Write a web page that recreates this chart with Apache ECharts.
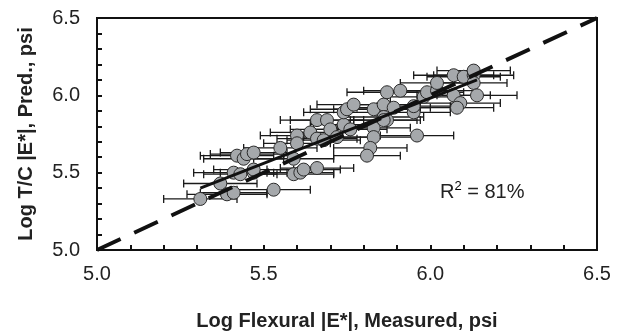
<!DOCTYPE html>
<html>
<head>
<meta charset="utf-8">
<script src="https://cdn.jsdelivr.net/npm/echarts@6/dist/echarts.min.js"></script>
<style>html,body{margin:0;padding:0;background:#fff}#c{width:626px;height:336px}</style>
</head>
<body>
<div id="c"></div>
<script>
// Measured (flexural) log |E*|
const measured = [5.31,5.37,5.39,5.41,5.53,5.41,5.43,5.47,5.47,5.42,5.44,5.45,5.47,5.55,5.59,5.61,5.66,5.59,5.60,5.60,5.64,5.66,5.66,5.69,5.74,5.76,5.70,5.68,5.72,5.74,5.75,5.77,5.83,5.86,5.89,5.95,5.86,5.87,5.83,5.83,5.82,5.81,5.96,5.87,5.91,5.98,5.99,6.02,6.02,6.07,6.10,6.13,6.13,6.13,6.07,6.09,6.08,6.14,5.95,5.62,5.86];
// Predicted (T/C) log |E*|
const predicted = [5.33,5.43,5.36,5.37,5.39,5.50,5.49,5.50,5.52,5.61,5.59,5.62,5.63,5.66,5.49,5.50,5.53,5.59,5.74,5.69,5.76,5.84,5.72,5.84,5.81,5.78,5.78,5.71,5.73,5.89,5.91,5.94,5.91,5.94,5.92,5.89,5.86,5.84,5.79,5.73,5.66,5.61,5.74,6.02,6.03,5.99,6.02,6.03,6.08,6.13,6.12,6.13,6.16,6.08,6.00,5.95,5.92,6.00,5.93,5.52,5.84];
// Horizontal error (+/-) on measured
const measuredErr = [0.11,0.11,0.12,0.10,0.11,0.12,0.11,0.10,0.12,0.11,0.12,0.11,0.10,0.11,0.12,0.10,0.11,0.12,0.11,0.10,0.12,0.11,0.12,0.11,0.10,0.11,0.12,0.11,0.10,0.12,0.11,0.11,0.12,0.10,0.11,0.11,0.12,0.10,0.11,0.12,0.11,0.10,0.11,0.12,0.11,0.10,0.11,0.12,0.11,0.12,0.11,0.12,0.11,0.10,0.11,0.12,0.11,0.12,0.11,0.11,0.10];
// Line of equality and fitted line
const equalityX = [5.0, 6.5];
const equalityY = [5.0, 6.5];
const fitX = [5.31, 6.14];
const fitY = [5.40, 6.10];
const xTicks = [5.0, 5.5, 6.0, 6.5];
const yTicks = [5.0, 5.5, 6.0, 6.5];
const r2Text = '81%';

const pts = measured.map((x, i) => [x, predicted[i]]);
const errData = measured.map((x, i) => [x - measuredErr[i], x + measuredErr[i], predicted[i]]);
const font = 'Liberation Sans, Arial, sans-serif';
const isMajor = (v, ticks) => ticks.some(t => Math.abs(t - v) < 1e-6);

const chart = echarts.init(document.getElementById('c'));
chart.setOption({
  animation: false,
  grid: {left: 97, right: 29, top: 18, bottom: 80, show: true, borderColor: '#111', borderWidth: 2, backgroundColor: 'transparent'},
  xAxis: {
    type: 'value', min: 5.0, max: 6.5, interval: 0.1,
    name: 'Log Flexural |E*|, Measured, psi', nameLocation: 'middle', nameGap: 61,
    nameTextStyle: {fontFamily: font, fontSize: 20, fontWeight: 'bold', color: '#222'},
    axisLine: {lineStyle: {color: '#111', width: 2}},
    axisTick: {inside: true, length: 5, lineStyle: {color: '#111', width: 2}},
    axisLabel: {margin: 14, fontFamily: font, fontSize: 20, color: '#222',
      formatter: v => isMajor(v, xTicks) ? v.toFixed(1) : ''},
    splitLine: {show: false}
  },
  yAxis: {
    type: 'value', min: 5.0, max: 6.5, interval: 0.1,
    name: 'Log T/C |E*|, Pred., psi', nameLocation: 'middle', nameGap: 61,
    nameTextStyle: {fontFamily: font, fontSize: 20, fontWeight: 'bold', color: '#222'},
    axisLine: {lineStyle: {color: '#111', width: 2}},
    axisTick: {inside: true, length: 5, lineStyle: {color: '#111', width: 2}},
    axisLabel: {margin: 17, fontFamily: font, fontSize: 20, color: '#222',
      formatter: v => isMajor(v, yTicks) ? v.toFixed(1) : ''},
    splitLine: {show: false}
  },
  graphic: [{
    type: 'text', left: 440, top: 180, z: 100,
    style: {
      text: '{r|R}{s|2}{r| = ' + r2Text + '}',
      rich: {
        r: {fontFamily: font, fontSize: 20, fill: '#222', color: '#222'},
        s: {fontFamily: font, fontSize: 13, color: '#222', padding: [0, 0, 11, 0]}
      }
    }
  }],
  series: [
    {
      type: 'custom', z: 2,
      data: errData,
      renderItem: (params, api) => {
        const y = api.value(2);
        const a = api.coord([api.value(0), y]);
        const b = api.coord([api.value(1), y]);
        const h = 4;
        const st = {stroke: '#1a1a1a', lineWidth: 1.3};
        return {type: 'group', children: [
          {type: 'line', shape: {x1: a[0], y1: a[1], x2: b[0], y2: b[1]}, style: st},
          {type: 'line', shape: {x1: a[0], y1: a[1] - h, x2: a[0], y2: a[1] + h}, style: st},
          {type: 'line', shape: {x1: b[0], y1: b[1] - h, x2: b[0], y2: b[1] + h}, style: st}
        ]};
      }
    },
    {
      type: 'scatter', z: 3, symbol: 'circle', symbolSize: 13,
      data: pts,
      itemStyle: {color: '#a5a8ab', borderColor: '#2a2a2a', borderWidth: 1, opacity: 1}
    },
    {
      type: 'line', z: 4, symbol: 'none',
      data: equalityX.map((x, i) => [x, equalityY[i]]),
      lineStyle: {color: '#111', width: 4, type: [26, 15]}
    },
    {
      type: 'line', z: 4, symbol: 'none',
      data: fitX.map((x, i) => [x, fitY[i]]),
      lineStyle: {color: '#111', width: 3}
    }
  ]
});
</script>
</body>
</html>
